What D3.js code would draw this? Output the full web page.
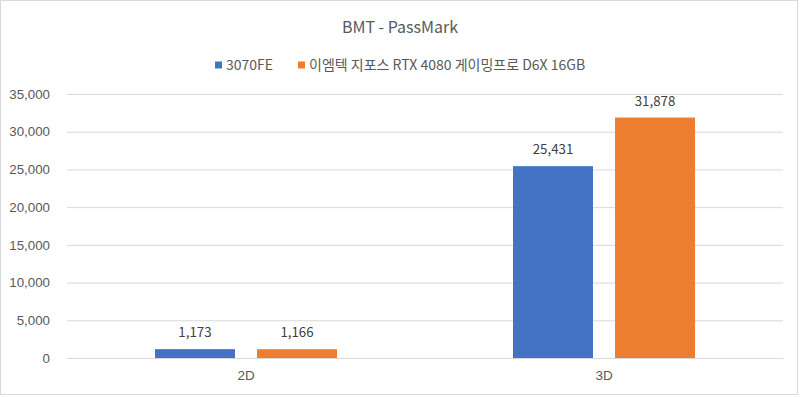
<!DOCTYPE html>
<html>
<head>
<meta charset="utf-8">
<script src="https://cdn.jsdelivr.net/npm/d3@7"></script>
<style>
  body { margin: 0; background: #fff; }
  svg { display: block; font-family: "Noto Sans CJK KR", "Noto Sans", sans-serif; }
</style>
</head>
<body>
<div id="chart"></div>
<script>
var categories = ["2D", "3D"];
var seriesNames = ["3070FE", "이엠텍 지포스 RTX 4080 게이밍프로 D6X 16GB"];
var series3070 = [1173, 25431];
var series4080 = [1166, 31878];
var yTicks = [0, 5000, 10000, 15000, 20000, 25000, 30000, 35000];
var colors = ["#4472c4", "#ed7d31"];

var width = 800, height = 397;
var margin = { top: 94, right: 17, bottom: 39, left: 67 };

var svg = d3.select("#chart")
  .append("svg")
  .attr("width", width)
  .attr("height", height);

// chart border
svg.append("rect")
  .attr("x", 0.5).attr("y", 0.5)
  .attr("width", width - 3).attr("height", height - 3)
  .attr("fill", "#fff")
  .attr("stroke", "#d9d9d9");

var x0 = d3.scaleBand()
  .domain(categories)
  .range([margin.left, width - margin.right])
  .paddingInner(0.4916)
  .paddingOuter(0.2458);

var x1 = d3.scaleBand()
  .domain(seriesNames)
  .range([0, x0.bandwidth()])
  .paddingInner(0.216);

var y = d3.scaleLinear()
  .domain([0, 35000])
  .range([height - margin.bottom, margin.top]);

// gridlines
svg.append("g")
  .attr("transform", "translate(" + margin.left + ",0)")
  .call(d3.axisLeft(y).tickValues(yTicks)
    .tickSize(-(width - margin.left - margin.right))
    .tickFormat(""))
  .call(g => g.select(".domain").remove())
  .call(g => g.selectAll("line").attr("stroke", "#d9d9d9"));

// y labels
svg.append("g")
  .attr("transform", "translate(" + margin.left + ",0)")
  .call(d3.axisLeft(y).tickValues(yTicks).tickSize(0).tickPadding(17)
    .tickFormat(d3.format(",")))
  .call(g => g.select(".domain").remove())
  .call(g => g.selectAll("text")
    .attr("fill", "#595959")
    .style("font-size", "13.3px")
    .style("font-family", "inherit"));

// x labels
svg.append("g")
  .attr("transform", "translate(0," + (height - margin.bottom) + ")")
  .call(d3.axisBottom(x0).tickSize(0).tickPadding(12))
  .call(g => g.select(".domain").attr("stroke", "#d9d9d9"))
  .call(g => g.selectAll("text")
    .attr("fill", "#595959")
    .style("font-size", "13.5px")
    .style("font-family", "inherit"));

var rows = categories.map((c, i) => ({
  cat: c,
  values: [
    { name: seriesNames[0], value: series3070[i], color: colors[0] },
    { name: seriesNames[1], value: series4080[i], color: colors[1] }
  ]
}));

var groups = svg.selectAll(".grp")
  .data(rows)
  .enter()
  .append("g")
  .attr("transform", d => "translate(" + x0(d.cat) + ",0)");

groups.selectAll("rect")
  .data(d => d.values)
  .enter()
  .append("rect")
  .attr("x", d => x1(d.name))
  .attr("y", d => y(d.value))
  .attr("width", x1.bandwidth())
  .attr("height", d => y(0) - y(d.value))
  .attr("fill", d => d.color);

groups.selectAll(".lbl")
  .data(d => d.values)
  .enter()
  .append("text")
  .attr("x", d => x1(d.name) + x1.bandwidth() / 2)
  .attr("y", d => y(d.value) - 12)
  .attr("text-anchor", "middle")
  .attr("fill", "#404040")
  .style("font-size", "13.3px")
  .text(d => d3.format(",")(d.value));

// title
svg.append("text")
  .attr("x", width / 2)
  .attr("y", 33)
  .attr("text-anchor", "middle")
  .attr("fill", "#595959")
  .style("font-size", "16px")
  .text("BMT - PassMark");

// legend
var legendX = [215, 298];
var legend = svg.selectAll(".leg")
  .data(seriesNames)
  .enter()
  .append("g")
  .attr("transform", (d, i) => "translate(" + legendX[i] + ",65)");

legend.append("rect")
  .attr("x", 0).attr("y", -3.5)
  .attr("width", 7).attr("height", 7)
  .attr("fill", (d, i) => colors[i]);

legend.append("text")
  .attr("x", 11)
  .attr("y", 0)
  .attr("dy", "0.35em")
  .attr("fill", "#595959")
  .style("font-size", "14px")
  .text(d => d);
</script>
</body>
</html>
